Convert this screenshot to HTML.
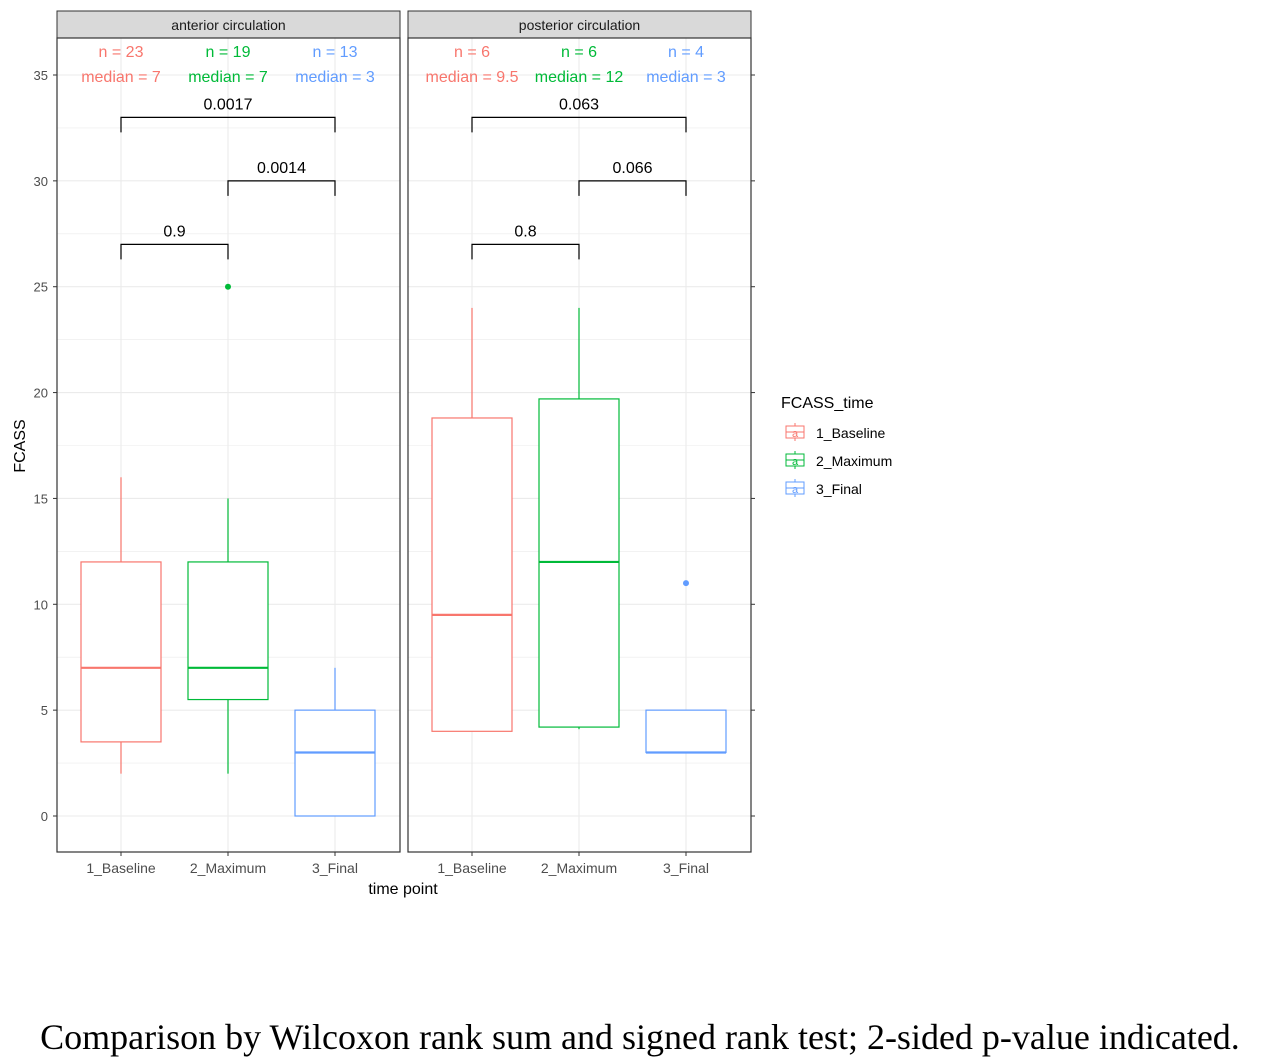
<!DOCTYPE html>
<html><head><meta charset="utf-8"><style>
body{margin:0;background:#fff;width:1280px;height:1059px;overflow:hidden}
svg text{font-family:"Liberation Sans",sans-serif}
</style></head><body>
<svg id="chart" width="1280" height="1059" xmlns="http://www.w3.org/2000/svg"></svg>
<script>
const panels=["anterior circulation","posterior circulation"];
const categories=["1_Baseline","2_Maximum","3_Final"];
const colors=["#F8766D","#00BA38","#619CFF"];
// per panel, per category: [whiskerLow, q1, median, q3, whiskerHigh]
const antStats=[[2,3.5,7,12,16],[2,5.5,7,12,15],[0,0,3,5,7]];
const postStats=[[4,4,9.5,18.8,24],[4.1,4.2,12,19.7,24],[3,3,3,5,5]];
const antOutliers=[[],[25],[]];
const postOutliers=[[],[],[11]];
const antN=[23,19,13];const antMed=["7","7","3"];
const postN=[6,6,4];const postMed=["9.5","12","3"];
const antP=["0.9","0.0014","0.0017"];
const postP=["0.8","0.066","0.063"];
const pairs=[[0,1,27],[1,2,30],[0,2,33]];
const yTicks=[0,5,10,15,20,25,30,35];

const svg=document.getElementById('chart');
const NS="http://www.w3.org/2000/svg";
function mk(t,a,p){const e=document.createElementNS(NS,t);for(const k in a)e.setAttribute(k,a[k]);(p||svg).appendChild(e);return e;}
const y=v=>816-v*(741/35);
const panelX=[57,408],pw=343;
const xc=(p,i)=>panelX[p]+64+i*107;
const stats=[antStats,postStats],outs=[antOutliers,postOutliers],ns=[antN,postN],meds=[antMed,postMed],ps=[antP,postP];

for(let p=0;p<2;p++){
  const g=mk('g',{});
  
  
  const x0=panelX[p];
  const strip=mk('rect',{x:x0,y:11,width:pw,height:27,fill:'#d9d9d9',stroke:'#333','stroke-width':1},g);
  
  
  const st=mk('text',{x:x0+pw/2,y:30,'text-anchor':'middle','font-size':14,fill:'#1a1a1a'},g);st.textContent=panels[p];
  
  
  for(let v=0;v<=35;v+=2.5){mk('line',{x1:x0,x2:x0+pw,y1:y(v),y2:y(v),stroke:'#ebebeb','stroke-width':v%5?0.6:1.1},g);}
  for(let i=0;i<3;i++)mk('line',{x1:xc(p,i),x2:xc(p,i),y1:38,y2:852,stroke:'#ebebeb','stroke-width':1.1},g);
  for(let i=0;i<3;i++){
    const s=stats[p][i],c=colors[i],cx=xc(p,i);
    const b=mk('g',{},g);
    
    
    mk('line',{x1:cx,x2:cx,y1:y(s[0]),y2:y(s[1]),stroke:c,'stroke-width':1.2},b);
    mk('line',{x1:cx,x2:cx,y1:y(s[3]),y2:y(s[4]),stroke:c,'stroke-width':1.2},b);
    mk('rect',{x:cx-40,y:y(s[3]),width:80,height:y(s[1])-y(s[3]),fill:'#fff',stroke:c,'stroke-width':1.2},b);
    mk('line',{x1:cx-40,x2:cx+40,y1:y(s[2]),y2:y(s[2]),stroke:c,'stroke-width':2.2},b);
    outs[p][i].forEach(o=>{const d=mk('circle',{cx:cx,cy:y(o),r:3,fill:c},b);});
    const t1=mk('text',{x:cx,y:57,'text-anchor':'middle','font-size':16,fill:c},g);t1.textContent='n = '+ns[p][i];
    
    
    const t2=mk('text',{x:cx,y:82,'text-anchor':'middle','font-size':16,fill:c},g);t2.textContent='median = '+meds[p][i];
    
    
    const xl=mk('text',{x:cx,y:873,'text-anchor':'middle','font-size':14,fill:'#4d4d4d'},g);xl.textContent=categories[i];
    
    
    mk('line',{x1:cx,x2:cx,y1:852,y2:856,stroke:'#333'},g);
  }
  pairs.forEach((pr,k)=>{
    const a=xc(p,pr[0]),bb=xc(p,pr[1]),yy=y(pr[2]);
    const br=mk('path',{d:`M${a},${yy+15}V${yy}H${bb}V${yy+15}`,fill:'none',stroke:'#000','stroke-width':1.2},g);
    
    
    const pt=mk('text',{x:(a+bb)/2,y:yy-8,'text-anchor':'middle','font-size':16,fill:'#000'},g);pt.textContent=ps[p][k];
    
    
  });
  mk('rect',{x:x0,y:38,width:pw,height:814,fill:'none',stroke:'#333','stroke-width':1.2},g);
}
yTicks.forEach(v=>{
  mk('line',{x1:53,x2:57,y1:y(v),y2:y(v),stroke:'#333'});
  mk('line',{x1:751,x2:755,y1:y(v),y2:y(v),stroke:'#333'});
  const t=mk('text',{x:48,y:y(v)+5,'text-anchor':'end','font-size':13,fill:'#4d4d4d'});t.textContent=v;
  
  
});
const yt=mk('text',{x:0,y:0,transform:'translate(25,446) rotate(-90)','text-anchor':'middle','font-size':16,fill:'#000'});yt.textContent='FCASS';


const xt=mk('text',{x:403,y:894,'text-anchor':'middle','font-size':16,fill:'#000'});xt.textContent='time point';


const lt=mk('text',{x:781,y:408,'font-size':16,fill:'#000'});lt.textContent='FCASS_time';


categories.forEach((c,i)=>{
  const g=mk('g',{});
  
  
  const cy=432+i*28;
  mk('line',{x1:795,x2:795,y1:cy-9,y2:cy+9,stroke:colors[i]},g);
  mk('rect',{x:786,y:cy-6,width:18,height:12,fill:'#fff',stroke:colors[i]},g);
  mk('line',{x1:786,x2:804,y1:cy,y2:cy,stroke:colors[i]},g);
  const a=mk('text',{x:795,y:cy+5,'text-anchor':'middle','font-size':11,fill:colors[i]},g);a.textContent='a';
  const t=mk('text',{x:816,y:cy+6,'font-size':14,fill:'#000'},g);t.textContent=c;
});
const cap=mk('text',{x:640,y:1049,'text-anchor':'middle','font-size':36,fill:'#000','font-family':'Liberation Serif, serif',style:'font-family:"Liberation Serif",serif'});
cap.textContent='Comparison by Wilcoxon rank sum and signed rank test; 2-sided p-value indicated.';


</script>
</body></html>
